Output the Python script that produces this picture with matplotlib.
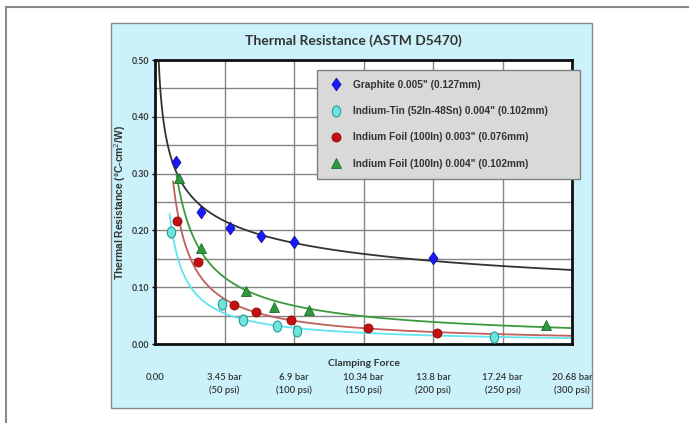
import numpy as np
import matplotlib
matplotlib.use('Agg')
import matplotlib.pyplot as plt
from matplotlib.lines import Line2D
from matplotlib.patches import Rectangle
from matplotlib.path import Path

# ---------------- data ----------------
x_ticks = [0, 50, 100, 150, 200, 250, 300]
x_tick_labels = ['0.00', '3.45 bar\n(50 psi)', '6.9 bar\n(100 psi)', '10.34 bar\n(150 psi)',
                 '13.8 bar\n(200 psi)', '17.24 bar\n(250 psi)', '20.68 bar\n(300 psi)']
y_ticks = [0.0, 0.1, 0.2, 0.3, 0.4, 0.5]
y_tick_labels = ['0.00', '0.10', '0.20', '0.30', '0.40', '0.50']

graphite_x = [15, 33, 54, 76, 100, 200]
graphite_y = [0.320, 0.233, 0.205, 0.190, 0.179, 0.151]

indium_tin_x = [11.5, 48, 63.5, 88, 102, 244]
indium_tin_y = [0.198, 0.070, 0.043, 0.032, 0.023, 0.013]

foil3_x = [15.5, 31, 57, 72.5, 98, 153, 203]
foil3_y = [0.217, 0.144, 0.069, 0.056, 0.042, 0.029, 0.019]

foil4_x = [17, 33, 65.5, 85.5, 111, 281]
foil4_y = [0.293, 0.169, 0.094, 0.065, 0.060, 0.033]

labels = ['Graphite 0.005" (0.127mm)',
          'Indium-Tin (52In-48Sn) 0.004" (0.102mm)',
          'Indium Foil (100In) 0.003" (0.076mm)',
          'Indium Foil (100In) 0.004" (0.102mm)']

# ---------------- figure ----------------
W, H = 689, 423
fig = plt.figure(figsize=(W / 100, H / 100), dpi=100)
fig.patch.set_facecolor('white')

def fx(px):
    return px / W

def fy(py):
    return 1 - py / H

# outer screenshot border (grey lines top & left)
fig.add_artist(Line2D([fx(6), 1], [fy(7), fy(7)], color='#8a8a8a', lw=1.5))
fig.add_artist(Line2D([fx(6), fx(6)], [fy(7), 0], color='#8a8a8a', lw=1.5))

# light blue chart panel
fig.add_artist(Rectangle((fx(111), fy(408)), fx(592) - fx(111), fy(23) - fy(408),
                         facecolor='#cbf2fb', edgecolor='#8a8a8a', lw=1.0, zorder=0))

ax = fig.add_axes([fx(155), fy(344), fx(572) - fx(155), fy(60) - fy(344)])
ax.set_facecolor('white')
ax.set_xlim(0, 300)
ax.set_ylim(0, 0.5)

ax.set_xticks(x_ticks)
ax.set_xticklabels(x_tick_labels, fontsize=6.8, family='Lato', fontweight='semibold',
                   color='#333333', linespacing=1.45)
ax.set_yticks(y_ticks)
ax.set_yticklabels(y_tick_labels, fontsize=6.3, family='Lato', fontweight='bold', color='#333333')
ax.set_yticks(np.arange(0.05, 0.5, 0.1), minor=True)
ax.tick_params(axis='x', length=0, pad=21)
ax.tick_params(axis='y', which='major', length=2, width=1, pad=2)
ax.tick_params(axis='y', which='minor', length=0)
ax.grid(True, which='both', color='#858585', lw=1.0)
ax.set_axisbelow(True)
for s in ax.spines.values():
    s.set_linewidth(2.0)
    s.set_color('#111111')

ax.text(0.5, -0.07, 'Clamping Force', transform=ax.transAxes, ha='center', va='center',
        fontsize=7.5, family='Lato', fontweight='bold', color='#333333')
ax.set_ylabel('Thermal Resistance (°C-cm$^{2}$/W)', fontsize=7.4, family='Liberation Sans',
              fontweight='bold', color='#333333')
ax.yaxis.set_label_coords((128 - 155) / 417, 0.5)
fig.text(fx(353), fy(41), 'Thermal Resistance (ASTM D5470)', ha='center', va='center',
         fontsize=10, family='Lato', fontweight='bold', color='#333333')

# ---------------- power trend lines ----------------
def power_fit(x, y, x0):
    b, lna = np.polyfit(np.log(x), np.log(y), 1)
    xs = np.linspace(x0, 300, 400)
    return xs, np.exp(lna) * xs ** b

series = [
    (graphite_x, graphite_y, 1.0, '#333333'),
    (indium_tin_x, indium_tin_y, 10.5, '#5ee6f0'),
    (foil3_x, foil3_y, 13.0, '#c0605a'),
    (foil4_x, foil4_y, 15.5, '#3c9a3c'),
]
for x, y, x0, c in series:
    xs, ys = power_fit(x, y, x0)
    ax.plot(xs, ys, color=c, lw=1.3, zorder=2)

diamond = Path([(-0.72, 0), (0, 1), (0.72, 0), (0, -1), (-0.72, 0)],
               [Path.MOVETO, Path.LINETO, Path.LINETO, Path.LINETO, Path.CLOSEPOLY])
ellipse = Path.unit_circle().transformed(matplotlib.transforms.Affine2D().scale(0.75, 1.0))

h1, = ax.plot(graphite_x, graphite_y, ls='none', marker=diamond, ms=9,
              mfc='#1a1aff', mec='#1010a0', mew=0.6, zorder=4)
h2, = ax.plot(indium_tin_x, indium_tin_y, ls='none', marker=ellipse, ms=8,
              mfc='#6fe3dc', mec='#2a9a9a', mew=0.8, zorder=4)
h3, = ax.plot(foil3_x, foil3_y, ls='none', marker='o', ms=6.5,
              mfc='#c41010', mec='#8a0a0a', mew=0.6, zorder=4)
h4, = ax.plot(foil4_x, foil4_y, ls='none', marker='^', ms=7,
              mfc='#2e9a40', mec='#1e6a2a', mew=0.6, zorder=4)

leg = fig.legend([h1, h2, h3, h4], labels, loc='upper left',
                 bbox_to_anchor=(fx(317), fy(177), fx(580) - fx(317), fy(70) - fy(177)),
                 mode='expand', fancybox=False, framealpha=1, facecolor='#d9d9d9',
                 edgecolor='#7f7f7f', borderpad=0.95, labelspacing=1.62, handlelength=1.8,
                 handletextpad=0.8, borderaxespad=0,
                 prop={'family': 'Liberation Sans', 'weight': 'bold', 'size': 7.3})
for t in leg.get_texts():
    t.set_color('#333333')
leg.get_frame().set_linewidth(1.0)

fig.savefig('out.png', dpi=100)
